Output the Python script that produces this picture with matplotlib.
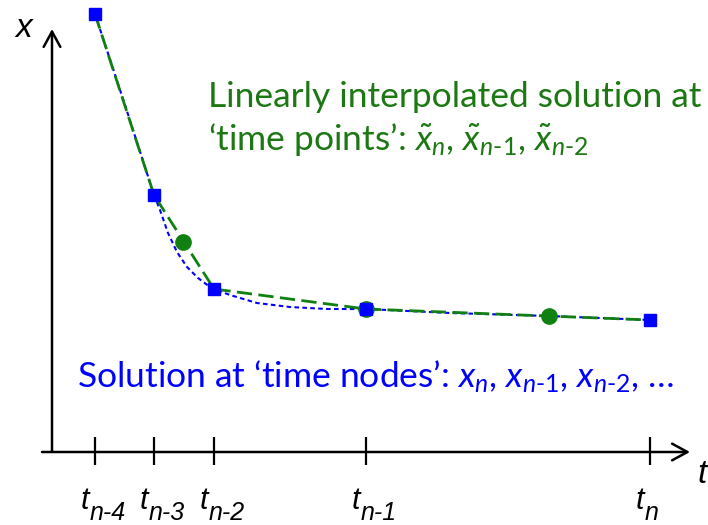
import matplotlib.pyplot as plt

plt.rcParams['mathtext.fontset'] = 'custom'
plt.rcParams['mathtext.rm'] = 'Lato'
plt.rcParams['mathtext.it'] = 'Lato:italic'

# time nodes (blue squares) and interpolated time points (green circles)
t_nodes = [0.43, 1.02, 1.62, 3.14, 5.98]
x_nodes = [4.38, 2.57, 1.63, 1.43, 1.32]
t_points = [1.31, 3.14, 4.97]
x_points = [2.10, 1.43, 1.36]

# underlying smooth solution (blue dotted)
curve_t = [0.43, 0.73, 1.02, 1.08, 1.16, 1.25, 1.35, 1.46, 1.58, 1.62,
           1.78, 2.05, 2.38, 2.75, 3.14, 3.98, 4.97, 5.98]
curve_x = [4.38, 3.47, 2.57, 2.42, 2.19, 2.00, 1.85, 1.74, 1.65, 1.63,
           1.57, 1.49, 1.45, 1.43, 1.43, 1.39, 1.36, 1.32]

tick_subs = ['n-4', 'n-3', 'n-2', 'n-1', 'n']

green = '#108010'
green_txt = '#1c7812'
blue = '#0000ff'

fig = plt.figure(figsize=(7.08, 5.25), dpi=100)
ax = fig.add_axes([0, 0, 1, 1])
ax.set_xlim(-0.52, 6.56)
ax.set_ylim(-0.73, 4.52)
ax.axis('off')

# axes with arrows
arrow = dict(arrowstyle='->,head_length=0.55,head_width=0.3', lw=1.8,
             color='black', mutation_scale=20, shrinkA=0, shrinkB=0)
ax.annotate('', xy=(6.38, 0), xytext=(-0.10, 0), arrowprops=arrow)
ax.annotate('', xy=(0, 4.23), xytext=(0, 0), arrowprops=arrow)
ax.vlines(t_nodes, -0.13, 0.15, color='black', lw=1.6)

ax.text(-0.28, 4.15, 'x', fontsize=24, style='italic',
        family='Liberation Sans', ha='center', va='baseline')
ax.text(6.50, -0.31, 't', fontsize=24, style='italic',
        family='Liberation Sans', ha='center', va='baseline')

for t, sub in zip(t_nodes, tick_subs):
    ax.annotate('t', (t, -0.57), xytext=(-4, 0), textcoords='offset points',
                fontsize=22, style='italic', family='Liberation Sans',
                ha='right', va='baseline')
    ax.annotate(sub, (t, -0.57), xytext=(-4, -8), textcoords='offset points',
                fontsize=18, style='italic', family='Liberation Sans',
                ha='left', va='baseline')

# curves
ax.plot(curve_t, curve_x, color=blue, lw=1.5, dashes=(2.2, 1.6), zorder=2)
ax.plot(t_nodes, x_nodes, color=green, lw=2.0, dashes=(5.5, 2.3), zorder=3)
ax.plot(t_points, x_points, 'o', color=green, ms=11, zorder=4)
ax.plot(t_nodes, x_nodes, 's', color=blue, ms=8, zorder=5)

ax.text(1.56, 3.45, 'Linearly interpolated solution at', fontsize=25.5,
        family='Lato', color=green_txt, va='baseline')
ax.text(1.56, 3.02,
        r'‘time points’: $\tilde{x}_{n}$, $\tilde{x}_{n\text{-}1}$, $\tilde{x}_{n\text{-}2}$',
        fontsize=25.5, family='Lato', color=green_txt, va='baseline')
ax.text(0.25, 0.64,
        r'Solution at ‘time nodes’: $x_{n}$, $x_{n\text{-}1}$, $x_{n\text{-}2}$, …',
        fontsize=25.5, family='Lato', color=blue, va='baseline')

fig.savefig('out.png', dpi=100)
